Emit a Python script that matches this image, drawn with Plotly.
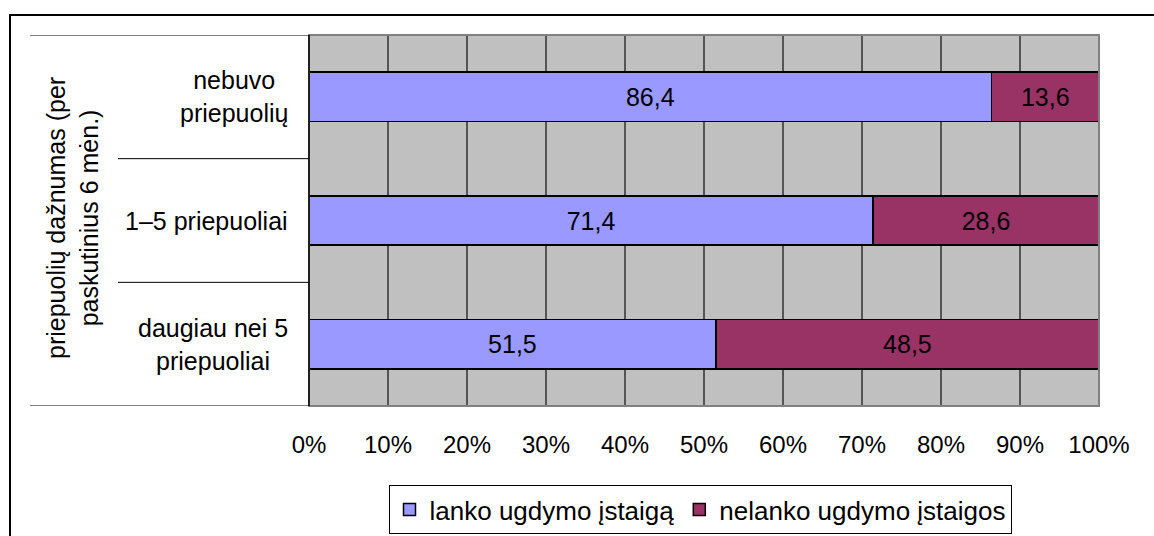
import plotly.graph_objects as go

categories = ["nebuvo<br>priepuolių", "1–5 priepuoliai", "daugiau nei 5<br>priepuoliai"]
series_names = ["lanko ugdymo įstaigą", "nelanko ugdymo įstaigos"]
attend = [86.4, 71.4, 51.5]
not_attend = [13.6, 28.6, 48.5]
tick_vals = [0, 10, 20, 30, 40, 50, 60, 70, 80, 90, 100]
tick_text = ["0%", "10%", "20%", "30%", "40%", "50%", "60%", "70%", "80%", "90%", "100%"]
y_title = "priepuolių dažnumas (per<br>paskutinius 6 mėn.)"
colors = ["#9999FF", "#993366"]

W, H = 1154, 536
L, R, T, B = 309, 55, 35, 130
pw, ph = W - L - R, H - T - B

def px(x):
    return (x - L) / pw

def py(y):
    return (H - B - y) / ph

FONT = "Liberation Sans, Arial, sans-serif"
idx = list(range(len(categories)))

fig = go.Figure()
for name, vals, col in zip(series_names, [attend, not_attend], colors):
    fig.add_trace(go.Bar(
        y=idx, x=vals, name=name, orientation="h",
        marker=dict(color=col, line=dict(color="black", width=1.5)),
        texttemplate="%{x:.1f}", textposition="inside", insidetextanchor="middle",
        textfont=dict(color="black", size=25, family=FONT),
        hoverinfo="skip",
    ))

shapes = []
# outer frame
shapes.append(dict(type="rect", xref="paper", yref="paper",
                   x0=px(10), x1=px(1200), y0=py(15), y1=py(600),
                   line=dict(color="black", width=2), layer="below"))
# plot area border
shapes.append(dict(type="rect", xref="paper", yref="paper", x0=0, x1=1, y0=0, y1=1,
                   line=dict(color="#808080", width=2)))
# category separators
for b in [-0.5, 0.5, 1.5, 2.5]:
    x0 = px(30) if b in (-0.5, 2.5) else px(118)
    shapes.append(dict(type="line", xref="paper", yref="y", x0=x0, x1=0, y0=b, y1=b,
                       line=dict(color="black", width=1)))
# y axis line
shapes.append(dict(type="line", xref="paper", yref="paper", x0=0, x1=0, y0=0, y1=1,
                   line=dict(color="black", width=1.5)))

annotations = []
for i, c in enumerate(categories):
    annotations.append(dict(text=c, xref="paper", yref="y", x=px(290), y=i,
                            xanchor="right", yanchor="middle", align="center",
                            showarrow=False, font=dict(size=25, family=FONT, color="black")))
annotations.append(dict(text=y_title, xref="paper", yref="paper", x=px(72), y=py(218),
                        xanchor="center", yanchor="middle", textangle=-90, align="center",
                        showarrow=False, font=dict(size=25, family=FONT, color="black")))

fig.update_layout(
    width=W, height=H, barmode="stack", bargap=0.6,
    separators=",.",
    margin=dict(l=L, r=R, t=T, b=B, pad=0, autoexpand=False),
    paper_bgcolor="white", plot_bgcolor="#C0C0C0",
    font=dict(family=FONT, size=24, color="black"),
    showlegend=True,
    legend=dict(orientation="h", x=px(700), xanchor="center", y=py(534), yanchor="bottom",
                bordercolor="black", borderwidth=1, bgcolor="white",
                font=dict(size=26, family=FONT), itemwidth=30,
                traceorder="normal", entrywidth=0),
    shapes=shapes, annotations=annotations,
    xaxis=dict(range=[0, 100], tickvals=tick_vals, ticktext=tick_text,
               showgrid=True, gridcolor="#555555", gridwidth=1.5,
               zeroline=False, ticks="", ticklabelstandoff=22,
               tickfont=dict(size=24, family=FONT), automargin=False),
    yaxis=dict(range=[2.5, -0.5], tickvals=idx, showticklabels=False,
               showgrid=False, zeroline=False, automargin=False),
)

fig.write_html("out.html", config={"displayModeBar": False},
               post_script="document.body.style.margin='0';")
